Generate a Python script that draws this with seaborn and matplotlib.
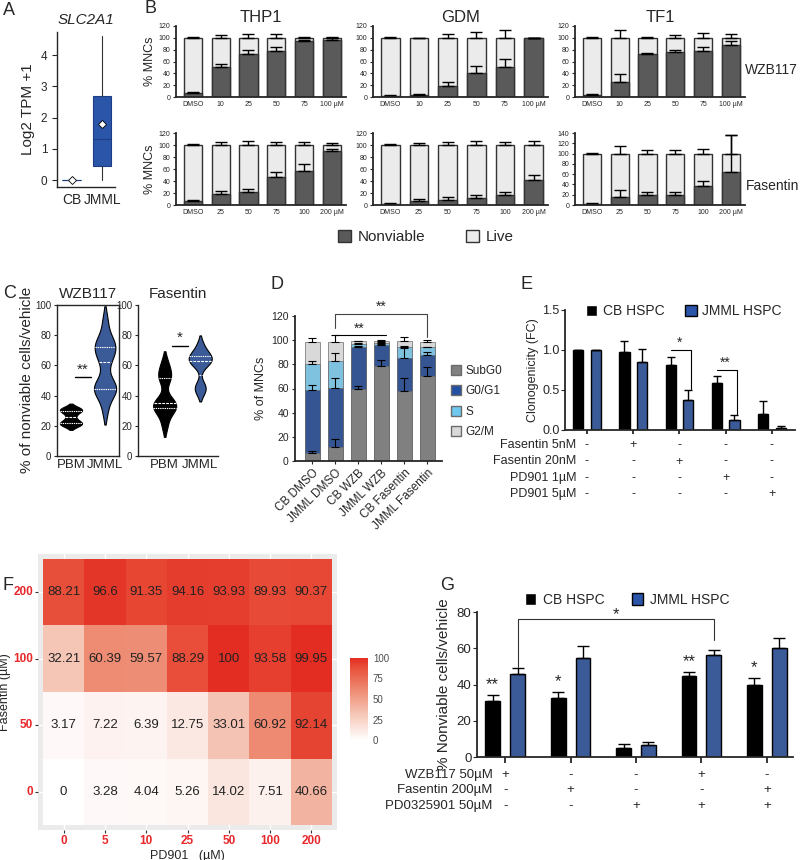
import numpy as np
import pandas as pd
import seaborn as sns
import matplotlib.pyplot as plt
from matplotlib.patches import Patch
from matplotlib.colors import LinearSegmentedColormap

sns.set_style("ticks")
plt.rcParams['font.family'] = ['Liberation Sans', 'DejaVu Sans']
plt.rcParams['axes.linewidth'] = 1.0

# ---------------- data ----------------
# A: SLC2A1 expression (box summary)
a_groups = ['CB', 'JMML']
a_q1 = [0.0, 0.45]
a_med = [0.0, 1.32]
a_q3 = [0.0, 2.68]
a_lo = [0.0, 0.0]
a_hi = [0.0, 4.6]
a_mean = [0.0, 1.8]

# B: % MNCs, nonviable part + error, live error
wzb_doses = ['DMSO', '10', '25', '50', '75', '100 µM']
fas_doses = ['DMSO', '25', '50', '75', '100', '200 µM']
thp1_wzb_nv = [6, 50, 73, 78, 94, 97]
thp1_wzb_nv_err = [2, 6, 7, 7, 3, 2]
thp1_wzb_live_err = [1, 5, 7, 6, 2, 1]
gdm_wzb_nv = [2, 3.5, 19, 41, 50, 100]
gdm_wzb_nv_err = [1.5, 1, 6, 11, 14, 0]
gdm_wzb_live_err = [1, 0.5, 6, 10, 13, 0]
tf1_wzb_nv = [3.5, 25.5, 72.5, 75.5, 77, 88]
tf1_wzb_nv_err = [1.5, 13, 2, 4.5, 8, 7]
tf1_wzb_live_err = [1, 13, 2, 4, 8, 6.5]
thp1_fas_nv = [7, 19, 21, 47, 57, 89.5]
thp1_fas_nv_err = [1, 5, 6, 8, 12, 4]
thp1_fas_live_err = [1, 5, 6, 5, 5, 3]
gdm_fas_nv = [2, 6.5, 9, 11, 16, 41.5]
gdm_fas_nv_err = [1.5, 3.5, 5, 6, 5, 8]
gdm_fas_live_err = [1, 3, 5, 6, 5, 7]
tf1_fas_nv = [2.5, 16.5, 19, 20, 37, 64]
tf1_fas_nv_err = [1, 13, 6, 5, 10, 72]
tf1_fas_live_err = [2, 15, 6, 6, 9, 36]

# C: % nonviable cells / vehicle (individual observations)
c_wzb_pbm = [20, 21, 22, 23, 26, 29, 30, 31, 32]
c_wzb_jmml = [30, 40, 43, 44, 45, 47, 50, 62, 65, 70, 72, 73, 75, 80, 90]
c_fas_pbm = [20, 28, 31, 33, 34, 35, 37, 50, 53, 56, 62]
c_fas_jmml = [42, 45, 47, 60, 62, 63, 64, 66, 67, 69, 74]

# D: cell cycle (% of MNCs)
d_labels = ['CB DMSO', 'JMML DMSO', 'CB WZB', 'JMML WZB', 'CB Fasentin', 'JMML Fasentin']
d_subg0 = [7, 12, 60, 78.5, 58, 70]
d_g0g1 = [51.5, 48.5, 34.5, 17.5, 27.5, 17.5]
d_s = [22, 22, 2.5, 2, 8.5, 6.5]
d_g2m = [18, 16, 2, 1, 5, 4.5]
d_subg0_err = [1, 6, 2, 5, 11, 8]
d_g0g1_err = [4, 8, 0.5, 0.5, 8, 3]
d_s_err = [2, 7, 0.5, 0.5, 1, 0.5]
d_g2m_err = [3, 5.5, 0.5, 1, 3.5, 2]
d_phases = ['SubG0', 'G0/G1', 'S', 'G2/M']

# E: clonogenicity
e_cb = [1.0, 0.97, 0.81, 0.59, 0.20]
e_cb_err = [0, 0.14, 0.10, 0.08, 0.16]
e_jmml = [1.0, 0.855, 0.37, 0.13, 0.02]
e_jmml_err = [0, 0.16, 0.135, 0.055, 0.025]
e_rows = ['Fasentin 5nM', 'Fasentin 20nM', 'PD901 1µM', 'PD901 5µM']
e_signs = [['-', '+', '-', '-', '-'],
           ['-', '-', '+', '-', '-'],
           ['-', '-', '-', '+', '-'],
           ['-', '-', '-', '-', '+']]

# F: heatmap, rows Fasentin (top to bottom), cols PD901
f_fas = ['200', '100', '50', '0']
f_pd = ['0', '5', '10', '25', '50', '100', '200']
f_vals = [[88.21, 96.6, 91.35, 94.16, 93.93, 89.93, 90.37],
          [32.21, 60.39, 59.57, 88.29, 100, 93.58, 99.95],
          [3.17, 7.22, 6.39, 12.75, 33.01, 60.92, 92.14],
          [0, 3.28, 4.04, 5.26, 14.02, 7.51, 40.66]]

# G: % nonviable cells / vehicle
g_cb = [31, 32.3, 4.8, 44.6, 40]
g_cb_err = [3.2, 3.4, 2.3, 2.5, 3.4]
g_jmml = [45.8, 54.8, 6.5, 56.2, 59.9]
g_jmml_err = [3.1, 6.5, 1.7, 3, 5.5]
g_stars = ['**', '*', '', '**', '*']
g_rows = ['WZB117 50µM', 'Fasentin 200µM', 'PD0325901 50µM']
g_signs = [['+', '-', '-', '+', '-'],
           ['-', '+', '-', '-', '+'],
           ['-', '-', '+', '+', '+']]

BLUE = '#2a55a8'
DARK = '#5a5a5a'
LIGHT = '#ebebeb'

W, H = 800, 860
fig = plt.figure(figsize=(8, 8.6), dpi=100)


def add_ax(x0, y0, x1, y1):
    return fig.add_axes([x0 / W, 1 - y1 / H, (x1 - x0) / W, (y1 - y0) / H])


def letter(x, y, s):
    fig.text(x / W, 1 - y / H, s, fontsize=13, va='top', ha='left')


# ---------------- A ----------------
ax = add_ax(57, 32, 115, 187)
stats = []
for i in range(2):
    stats.append(dict(med=a_med[i], q1=a_q1[i], q3=a_q3[i], whislo=a_lo[i],
                      whishi=a_hi[i], mean=a_mean[i], fliers=[]))
ax.bxp(stats, positions=[0, 1], widths=0.6, patch_artist=True, showmeans=True,
       showcaps=False,
       boxprops=dict(facecolor=BLUE, edgecolor='#1d3d85', lw=0.8),
       medianprops=dict(color='#1d3d85', lw=0.8),
       whiskerprops=dict(color='#333333', lw=0.8),
       meanprops=dict(marker='D', markerfacecolor='white', markeredgecolor='black',
                      markersize=4, markeredgewidth=0.6))
ax.set_xlim(-0.48, 1.42)
ax.set_ylim(-0.22, 4.74)
ax.set_yticks([0, 1, 2, 3, 4])
ax.set_xticks([0, 1])
ax.set_xticklabels(a_groups, fontsize=10)
ax.tick_params(axis='y', labelsize=8.5)
ax.tick_params(axis='x', length=0, pad=4)
ax.set_ylabel('Log2 TPM +1', fontsize=11)
ax.set_title('SLC2A1', fontsize=11, style='italic', pad=6)
sns.despine(ax=ax)
letter(3, 2, 'A')

# ---------------- B ----------------
letter(145, 0, 'B')
b_panels = [
    ((176, 26, 346, 97), wzb_doses, thp1_wzb_nv, thp1_wzb_nv_err, thp1_wzb_live_err, 120, 'THP1'),
    ((373, 26, 548, 97), wzb_doses, gdm_wzb_nv, gdm_wzb_nv_err, gdm_wzb_live_err, 120, 'GDM'),
    ((575, 26, 745, 97), wzb_doses, tf1_wzb_nv, tf1_wzb_nv_err, tf1_wzb_live_err, 120, 'TF1'),
    ((176, 133, 346, 205), fas_doses, thp1_fas_nv, thp1_fas_nv_err, thp1_fas_live_err, 120, None),
    ((373, 133, 548, 205), fas_doses, gdm_fas_nv, gdm_fas_nv_err, gdm_fas_live_err, 120, None),
    ((575, 133, 745, 205), fas_doses, tf1_fas_nv, tf1_fas_nv_err, tf1_fas_live_err, 140, None),
]
for k, (box, doses, nv, nv_err, live_err, ymax, title) in enumerate(b_panels):
    ax = add_ax(*box)
    n = len(doses)
    sns.barplot(x=doses, y=[100] * n, color=LIGHT, width=0.65, edgecolor='#333333',
                linewidth=1.0, errorbar=None, ax=ax)
    sns.barplot(x=doses, y=nv, color=DARK, width=0.65, edgecolor='#333333',
                linewidth=1.0, errorbar=None, ax=ax)
    xs = np.arange(n)
    ax.errorbar(xs, nv, yerr=[np.zeros(n), nv_err], fmt='none', ecolor='black',
                elinewidth=1, capsize=4, capthick=1)
    ax.errorbar(xs, [100] * n, yerr=[np.zeros(n), live_err], fmt='none', ecolor='black',
                elinewidth=1, capsize=4, capthick=1)
    ax.set_ylim(0, ymax)
    ax.set_yticks(np.arange(0, ymax + 1, 20))
    ax.set_xlim(-0.6, 5.5)
    ax.tick_params(labelsize=5, length=2, width=0.8, pad=2)
    ax.tick_params(axis='x', length=0, pad=3)
    if k % 3 == 0:
        ax.set_ylabel('% MNCs', fontsize=9, labelpad=2)
    if title:
        ax.set_title(title, fontsize=12, pad=3)
    for s in ['left', 'bottom']:
        ax.spines[s].set_linewidth(1.3)
    sns.despine(ax=ax)
fig.text(745 / W, 1 - 70 / H, 'WZB117', fontsize=10, va='center', ha='left')
fig.text(746 / W, 1 - 186 / H, 'Fasentin', fontsize=10, va='center', ha='left')
fig.legend(handles=[Patch(facecolor=DARK, edgecolor='#333333'),
                    Patch(facecolor=LIGHT, edgecolor='#333333')],
           labels=['Nonviable', 'Live'], loc='center', ncol=2,
           bbox_to_anchor=(426 / W, 1 - 237 / H), frameon=False, fontsize=11,
           handlelength=0.8, handleheight=0.9, columnspacing=2.7, handletextpad=0.45)

# ---------------- C ----------------
letter(3, 285, 'C')
c_panels = [((57, 305, 119, 456), c_wzb_pbm, c_wzb_jmml, 'WZB117', (-0.41, 1.41), True,
             (0.12, 0.59, 52, '**')),
            ((138, 305, 218, 456), c_fas_pbm, c_fas_jmml, 'Fasentin', (-0.75, 1.5), False,
             (0.2, 0.65, 73, '*'))]
for box, pbm, jm, title, xl, boxed, sig in c_panels:
    ax = add_ax(*box)
    df = pd.DataFrame({'group': ['PBM'] * len(pbm) + ['JMML'] * len(jm),
                       'value': pbm + jm})
    sns.violinplot(data=df, x='group', y='value', hue='group', order=['PBM', 'JMML'],
                   hue_order=['PBM', 'JMML'], palette=['black', BLUE], inner='quart',
                   inner_kws=dict(color='white', linewidth=0.8), linecolor='black',
                   linewidth=0.8, width=0.65, density_norm='width', bw_adjust=0.6,
                   cut=1.5, legend=False, ax=ax)
    ax.set_xlim(*xl)
    ax.set_ylim(0, 100)
    ax.set_yticks(np.arange(0, 101, 20))
    ax.set_xlabel('')
    ax.set_ylabel('')
    ax.tick_params(axis='y', labelsize=7, length=2, pad=2)
    ax.tick_params(axis='x', labelsize=9.5, length=0, pad=2)
    ax.set_title(title, fontsize=11, pad=5)
    if not boxed:
        sns.despine(ax=ax)
    x0, x1, y, s = sig
    ax.plot([x0, x1], [y, y], color='black', lw=1)
    ax.text((x0 + x1) / 2, y + 0.5, s, ha='center', va='bottom', fontsize=11)
fig.text(27 / W, 1 - 380 / H, '% of nonviable cells/vehicle', fontsize=11,
         rotation=90, ha='center', va='center')

# ---------------- D ----------------
letter(270, 276, 'D')
ax = add_ax(295, 316, 442, 461)
layers = [d_subg0, d_g0g1, d_s, d_g2m]
errs = [d_subg0_err, d_g0g1_err, d_s_err, d_g2m_err]
cols = ['#808080', '#2450a2', '#6ec8f0', '#d9d9d9']
tops = np.cumsum(np.array(layers, dtype=float), axis=0)
for i in range(3, -1, -1):
    sns.barplot(x=d_labels, y=tops[i], color=cols[i], width=0.65, edgecolor='#6b6b6b',
                linewidth=0.5, errorbar=None, ax=ax)
for i in range(4):
    ax.errorbar(np.arange(6), tops[i], yerr=[np.zeros(6), errs[i]], fmt='none',
                ecolor='black', elinewidth=0.8, capsize=3, capthick=0.8)
ax.set_xlim(-0.74, 5.65)
ax.set_ylim(0, 120)
ax.set_yticks(np.arange(0, 121, 20))
ax.set_xticks(np.arange(6))
ax.set_xticklabels(d_labels, rotation=45, ha='right', rotation_mode='anchor', fontsize=8.5)
ax.tick_params(axis='y', labelsize=7.5, length=2.5, pad=2)
ax.tick_params(axis='x', length=2.5, pad=2)
ax.set_ylabel('% of MNCs', fontsize=9, labelpad=3)
for s in ['left', 'bottom']:
    ax.spines[s].set_linewidth(1.3)
sns.despine(ax=ax)
ax.plot([1, 1, 5, 5], [110, 122, 122, 103], color='#444444', lw=0.8, clip_on=False)
ax.text(3, 122, '**', ha='center', va='bottom', fontsize=10)
ax.plot([1, 3.2], [104, 104], color='black', lw=0.8, clip_on=False)
ax.text(2.05, 104, '**', ha='center', va='bottom', fontsize=10)
ax.legend(handles=[Patch(facecolor=c, edgecolor='#6b6b6b') for c in cols],
          labels=d_phases, loc='center left', bbox_to_anchor=(1.03, 0.41),
          frameon=False, fontsize=8.5, handlelength=0.8, handleheight=0.9,
          labelspacing=0.7, handletextpad=0.4, borderaxespad=0)


def grouped_bars(ax, cb, cb_err, jm, jm_err, width, gap, capsize):
    n = len(cb)
    df = pd.DataFrame({'grp': [str(i) for i in range(n)] * 2,
                       'cell': ['CB HSPC'] * n + ['JMML HSPC'] * n,
                       'val': cb + jm})
    sns.barplot(data=df, x='grp', y='val', hue='cell', palette=['black', BLUE],
                width=width, gap=gap, edgecolor='black', linewidth=1, errorbar=None,
                legend=False, ax=ax)
    centers = [[p.get_x() + p.get_width() / 2 for p in c] for c in list(ax.containers)]
    for xs, vals, e in zip(centers, [cb, jm], [cb_err, jm_err]):
        ax.errorbar(xs, vals, yerr=[np.zeros(n), e], fmt='none', ecolor='black',
                    elinewidth=1, capsize=capsize, capthick=1)
    ax.set_xticklabels([])
    ax.set_xlabel('')
    for s in ['left', 'bottom']:
        ax.spines[s].set_linewidth(1.3)
    sns.despine(ax=ax)
    return centers


# ---------------- E ----------------
letter(520, 276, 'E')
ax = add_ax(565, 310, 795, 430)
pos = grouped_bars(ax, e_cb, e_cb_err, e_jmml, e_jmml_err, 0.76, 0.42, 3)
ax.set_xlim(-0.475, 4.5)
ax.set_ylim(0, 1.5)
ax.set_yticks([0, 0.5, 1.0, 1.5])
ax.set_yticklabels(['0.0', '0.5', '1.0', '1.5'])
ax.tick_params(axis='y', labelsize=9, length=3, pad=1)
ax.tick_params(axis='x', length=3, width=1.3)
ax.set_ylabel('Clonogenicity (FC)', fontsize=9, labelpad=2)
ax.plot([pos[0][2], pos[1][2] + 0.05, pos[1][2] + 0.05], [1.0, 1.0, 0.51],
        color='black', lw=0.8)
ax.text((pos[0][2] + pos[1][2]) / 2, 1.0, '*', ha='center', va='bottom', fontsize=10)
ax.plot([pos[0][3], pos[1][3] + 0.05, pos[1][3] + 0.05], [0.75, 0.75, 0.19],
        color='black', lw=0.8)
ax.text((pos[0][3] + pos[1][3]) / 2, 0.75, '**', ha='center', va='bottom', fontsize=10)
ax.legend(handles=[Patch(facecolor='black'), Patch(facecolor=BLUE, edgecolor='black')],
          labels=['CB HSPC', 'JMML HSPC'], loc='center', bbox_to_anchor=(0.517, 0.99),
          ncol=2, frameon=False, fontsize=10, handlelength=0.8, handleheight=0.9,
          columnspacing=1.5, handletextpad=0.4)
for r, (lab, signs) in enumerate(zip(e_rows, e_signs)):
    yy = -0.125 - r * 0.1375
    ax.text(0.048, yy, lab, transform=ax.transAxes, ha='right', va='center', fontsize=9)
    for j, s in enumerate(signs):
        ax.text(j, yy, s, transform=ax.get_xaxis_transform(), ha='center', va='center',
                fontsize=9)

# ---------------- F ----------------
letter(3, 577, 'F')
ax = add_ax(38, 554, 337, 830)
cax = add_ax(350, 658, 368, 740)
cmap = LinearSegmentedColormap.from_list(
    'wr', [(0, '#ffffff'), (0.33, '#f5c3b3'), (0.6, '#ee8c74'), (0.88, '#e8503a'),
           (1.0, '#e32d22')])
fdf = pd.DataFrame(f_vals, index=f_fas, columns=f_pd)
sns.heatmap(fdf, annot=True, fmt='g', cmap=cmap, vmin=0, vmax=100, ax=ax, cbar_ax=cax,
            annot_kws={'color': '#222222', 'fontsize': 9.5})
ax.set_facecolor('#ebebeb')
ax.set_xlim(-0.12, 7.12)
ax.set_ylim(4.075, -0.075)
ax.grid(True, color='white', lw=1)
ax.set_axisbelow(True)
ax.tick_params(length=2.5, color='#333333', width=0.8, pad=1)
ax.set_xticklabels(f_pd, color='#e8282b', fontweight='bold', fontsize=8.5, rotation=0)
ax.set_yticklabels(f_fas, color='#e8282b', fontweight='bold', fontsize=8.5, rotation=0)
ax.set_xlabel('PD901   (µM)', fontsize=9, labelpad=2)
ax.set_ylabel('')
fig.text(5 / W, 1 - 692 / H, 'Fasentin (µM)', fontsize=9, rotation=90,
         ha='center', va='center')
cbar = ax.collections[0].colorbar
cbar.outline.set_visible(False)
cbar.set_ticks([0, 25, 50, 75, 100])
cax.tick_params(color='white', labelcolor='#4d4d4d', direction='in', length=4,
                labelsize=7, width=0.8)

# ---------------- G ----------------
letter(440, 577, 'G')
ax = add_ax(477, 612, 793, 757)
pos = grouped_bars(ax, g_cb, g_cb_err, g_jmml, g_jmml_err, 0.76, 0.4, 4)
ax.set_xlim(-0.43, 4.4)
ax.set_ylim(0, 80)
ax.set_yticks(np.arange(0, 81, 20))
ax.tick_params(axis='y', labelsize=9.5, length=3, pad=1)
ax.tick_params(axis='x', length=4, width=1.3)
ax.set_ylabel('% Nonviable cells/vehicle', fontsize=11, labelpad=4)
for j, s in enumerate(g_stars):
    if s:
        ax.text(pos[0][j], g_cb[j] + g_cb_err[j] + 1.5, s, ha='center', va='bottom',
                fontsize=12)
ax.plot([pos[1][0], pos[1][0], pos[1][3], pos[1][3]], [49.5, 76, 76, 64.7],
        color='#333333', lw=0.8)
ax.text((pos[1][0] + pos[1][3]) / 2, 74.5, '*', ha='center', va='bottom', fontsize=12)
ax.legend(handles=[Patch(facecolor='black'), Patch(facecolor=BLUE, edgecolor='black')],
          labels=['CB HSPC', 'JMML HSPC'], loc='center', bbox_to_anchor=(0.475, 1.083),
          ncol=2, frameon=False, fontsize=10, handlelength=0.8, handleheight=0.9,
          columnspacing=2.0, handletextpad=0.5)
for r, (lab, signs) in enumerate(zip(g_rows, g_signs)):
    yy = -0.124 - r * 0.107
    ax.text(0.05, yy, lab, transform=ax.transAxes, ha='right', va='center', fontsize=9.5)
    for j, s in enumerate(signs):
        ax.text(j, yy, s, transform=ax.get_xaxis_transform(), ha='center', va='center',
                fontsize=9.5)

fig.savefig('out.png', dpi=100)
